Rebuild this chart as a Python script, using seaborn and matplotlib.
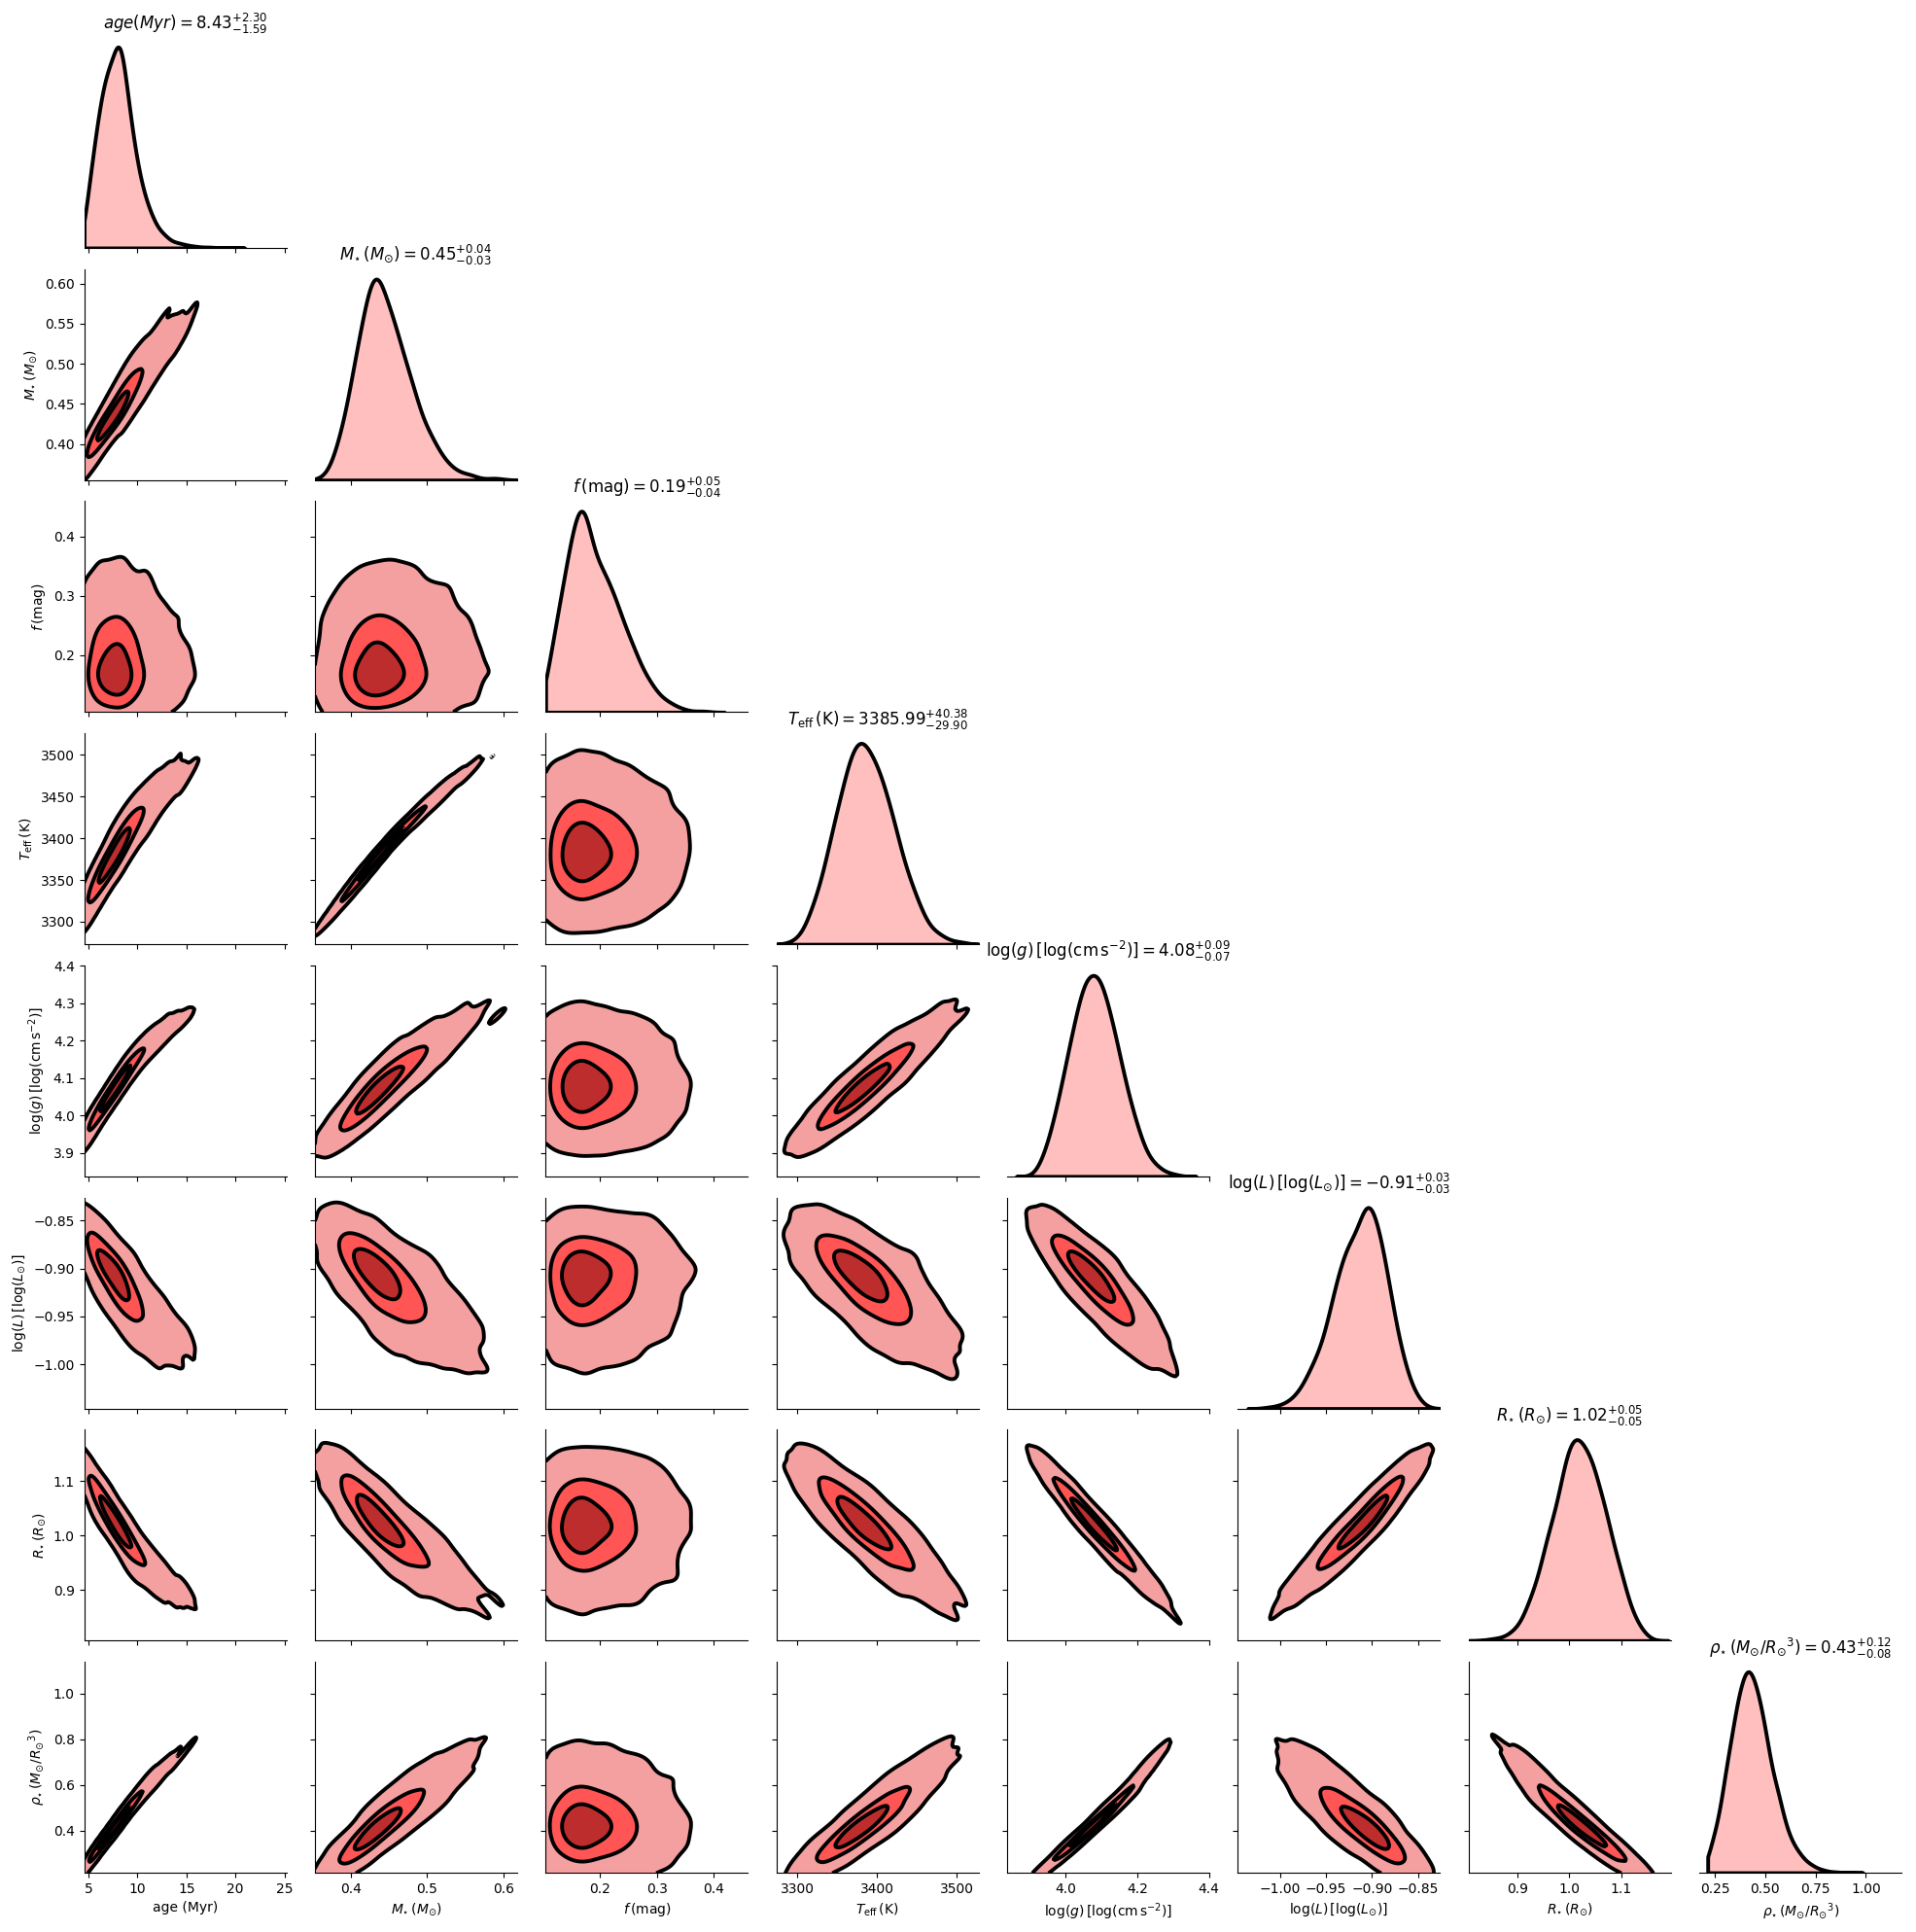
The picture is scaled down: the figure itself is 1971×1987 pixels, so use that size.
import sys
import traceback
import numpy as np
import pandas as pd
import matplotlib
matplotlib.use("Agg")
import matplotlib.pyplot as plt
from matplotlib.colors import ListedColormap
from matplotlib.ticker import MultipleLocator
import seaborn as sns
from statistics import NormalDist

# ---------------- data ----------------
var_keys = ["age", "mass", "fmag", "teff", "logg", "logl", "radius", "rho"]
labels = [
    r"age (Myr)",
    r"$M_{\star}\,(M_{\odot})$",
    r"$f\,(\mathrm{mag})$",
    r"$T_{\mathrm{eff}}\,(\mathrm{K})$",
    r"$\log(g)\,[\log(\mathrm{cm\,s^{-2}})]$",
    r"$\log(L)\,[\log(L_{\odot})]$",
    r"$R_{\star}\,(R_{\odot})$",
    r"$\rho_{\star}\,(M_{\odot}/{R_{\odot}}^{3})$",
]
title_names = [
    r"age(Myr)",
    r"M_{\star}\,(M_{\odot})",
    r"f\,(\mathrm{mag})",
    r"T_{\mathrm{eff}}\,(\mathrm{K})",
    r"\log(g)\,[\log(\mathrm{cm\,s^{-2}})]",
    r"\log(L)\,[\log(L_{\odot})]",
    r"R_{\star}\,(R_{\odot})",
    r"\rho_{\star}\,(M_{\odot}/{R_{\odot}}^{3})",
]
medians = [8.43, 0.45, 0.19, 3385.99, 4.08, -0.91, 1.02, 0.43]
err_plus = [2.30, 0.04, 0.05, 40.38, 0.09, 0.03, 0.05, 0.12]
err_minus = [1.59, 0.03, 0.04, 29.90, 0.07, 0.03, 0.05, 0.08]

# posterior shape estimated from the diagonal curves (mode, widths, tails)
mode = [7.9, 0.44, 0.179, 3384.0, 4.078, -0.910, 1.020, 0.425]
scale_low = [2.0, 0.031, 0.041, 36.0, 0.070, 0.032, 0.052, 0.098]
scale_high = [1.5, 0.037, 0.060, 38.0, 0.072, 0.026, 0.054, 0.100]
tail_stretch = [0.42, 0.15, 0.0, 0.0, 0.0, 0.0, 0.0, 0.18]
left_bend = [0.10, 0.0, 0.0, 0.0, 0.0, 0.0, 0.0, 0.0]
sample_min = [4.55, 0.353, 0.104, 3274.0, 3.836, -1.046, 0.807, 0.214]
sample_max = [25.2, 0.618, 0.460, 3527.0, 4.401, -0.826, 1.195, 1.140]

# correlations estimated from the shapes of the 2-D panels
corr_age = [1.00, 0.95, 0.00, 0.95, 0.98, -0.85, -0.95, 0.99]
corr_mass = [0.95, 1.00, 0.05, 0.995, 0.93, -0.75, -0.88, 0.92]
corr_fmag = [0.00, 0.05, 1.00, 0.00, 0.00, 0.00, 0.00, 0.00]
corr_teff = [0.95, 0.995, 0.00, 1.00, 0.93, -0.75, -0.88, 0.92]
corr_logg = [0.98, 0.93, 0.00, 0.93, 1.00, -0.88, -0.97, 0.99]
corr_logl = [-0.85, -0.75, 0.00, -0.75, -0.88, 1.00, 0.95, -0.87]
corr_rad = [-0.95, -0.88, 0.00, -0.88, -0.97, 0.95, 1.00, -0.96]
corr_rho = [0.99, 0.92, 0.00, 0.92, 0.99, -0.87, -0.96, 1.00]

# ---------------- deterministic posterior draws ----------------
dim = len(labels)
n_draws = 3000
phi_d = 2.0
for _ in range(60):
    phi_d = (1.0 + phi_d) ** (1.0 / (dim + 1))
alpha = (1.0 / phi_d) ** np.arange(1, dim + 1)
u = (0.5 + np.outer(np.arange(1, n_draws + 1), alpha)) % 1.0
inv_cdf = NormalDist().inv_cdf
z = np.array([[inv_cdf(min(max(v, 1e-9), 1 - 1e-9)) for v in row] for row in u])

C = np.array([corr_age, corr_mass, corr_fmag, corr_teff,
              corr_logg, corr_logl, corr_rad, corr_rho], dtype=float)
C = 0.5 * (C + C.T)
w, V = np.linalg.eigh(C)
C = V @ np.diag(np.clip(w, 2e-3, None)) @ V.T
d = np.sqrt(np.diag(C))
C = C / np.outer(d, d)
zc = z @ np.linalg.cholesky(C).T

vals = np.empty_like(zc)
for k in range(dim):
    zk = zc[:, k]
    t = tail_stretch[k]
    up = scale_high[k] * (np.expm1(t * zk) / t if t > 0 else zk)
    zl = np.maximum(zk, -0.5 / max(left_bend[k], 1e-6))
    down = scale_low[k] * zl * (1.0 + left_bend[k] * zl)
    vals[:, k] = mode[k] + np.where(zk >= 0, up, down)

keep = np.all((vals >= np.array(sample_min)) & (vals <= np.array(sample_max)), axis=1)
df = pd.DataFrame(vals[keep], columns=var_keys)

# ---------------- styling ----------------
levels = [0.01, 0.3, 0.68, 1.0]
band_cmap = ListedColormap(["#f4a0a0", "#ff5555", "#be2d2d"])
line_w = 2.8

col_lims = [(4.55, 25.2), (0.353, 0.618), (0.104, 0.460), (3274, 3527),
            (3.836, 4.401), (-1.046, -0.826), (0.807, 1.195), (0.173, 1.178)]
row_lims = [None, (0.355, 0.618), (0.104, 0.460), (3273, 3526),
            (3.838, 4.401), (-1.046, -0.826), (0.807, 1.195), (0.216, 1.140)]
x_steps = [5, 0.1, 0.1, 100, 0.2, 0.05, 0.1, 0.25]
y_steps = [None, 0.05, 0.1, 50, 0.1, 0.05, 0.1, 0.2]


def report(tag):
    et, ev, tb = sys.exc_info()
    frames = traceback.extract_tb(tb)
    short = " | ".join("%s:%d:%s" % (f.filename.split("/")[-1], f.lineno, f.name)
                       for f in frames[-9:])
    print(tag, repr(ev)[:200], short, file=sys.stderr)


g = sns.PairGrid(df, vars=var_keys, corner=True, diag_sharey=False, height=2.5)

for i in range(dim):
    for j in range(i):
        ax = g.axes[i, j]
        xv = df[var_keys[j]].to_numpy()
        yv = df[var_keys[i]].to_numpy()
        clip = ((sample_min[j], sample_max[j]), (sample_min[i], sample_max[i]))
        try:
            sns.kdeplot(x=xv, y=yv, ax=ax, fill=True, levels=levels,
                        cmap=band_cmap, clip=clip, gridsize=120, bw_adjust=1.3)
            sns.kdeplot(x=xv, y=yv, ax=ax, fill=False, levels=levels,
                        color="k", linewidths=line_w, clip=clip, gridsize=120,
                        bw_adjust=1.3)
        except Exception:
            report("2d")

for i in range(dim):
    ax0 = g.axes[i, i]
    dax = ax0.twinx()
    dax.set_axis_off()
    ax0.yaxis.set_visible(False)
    ax0.spines["left"].set_visible(False)
    try:
        sns.kdeplot(x=df[var_keys[i]].to_numpy(), ax=dax, fill=True, color="red",
                    alpha=0.25, edgecolor="k", linewidth=line_w,
                    clip=(sample_min[i], sample_max[i]), gridsize=300,
                    bw_adjust=1.2)
    except Exception:
        report("diag")
    dax.set_ylim(bottom=0)
    ax0.set_title(r"$%s = %.2f^{+%.2f}_{-%.2f}$"
                  % (title_names[i], medians[i], err_plus[i], err_minus[i]),
                  fontsize=12)

for i in range(dim):
    for j in range(dim):
        ax = g.axes[i, j]
        if ax is None:
            continue
        ax.set_xlim(col_lims[j])
        ax.xaxis.set_major_locator(MultipleLocator(x_steps[j]))
        if i != j:
            ax.set_ylim(row_lims[i])
            ax.yaxis.set_major_locator(MultipleLocator(y_steps[i]))
        ax.set_xlabel(labels[j] if i == dim - 1 else "")
        if j == 0 and i > 0:
            ax.set_ylabel(labels[i])
        else:
            ax.set_ylabel("")

fig = g.figure
fig.set_size_inches(19.71, 19.87)
fig.subplots_adjust(left=0.0439, right=0.9925, bottom=0.0307, top=0.9809,
                    wspace=0.1413, hspace=0.10)
fig.savefig("out.png", dpi=100)
